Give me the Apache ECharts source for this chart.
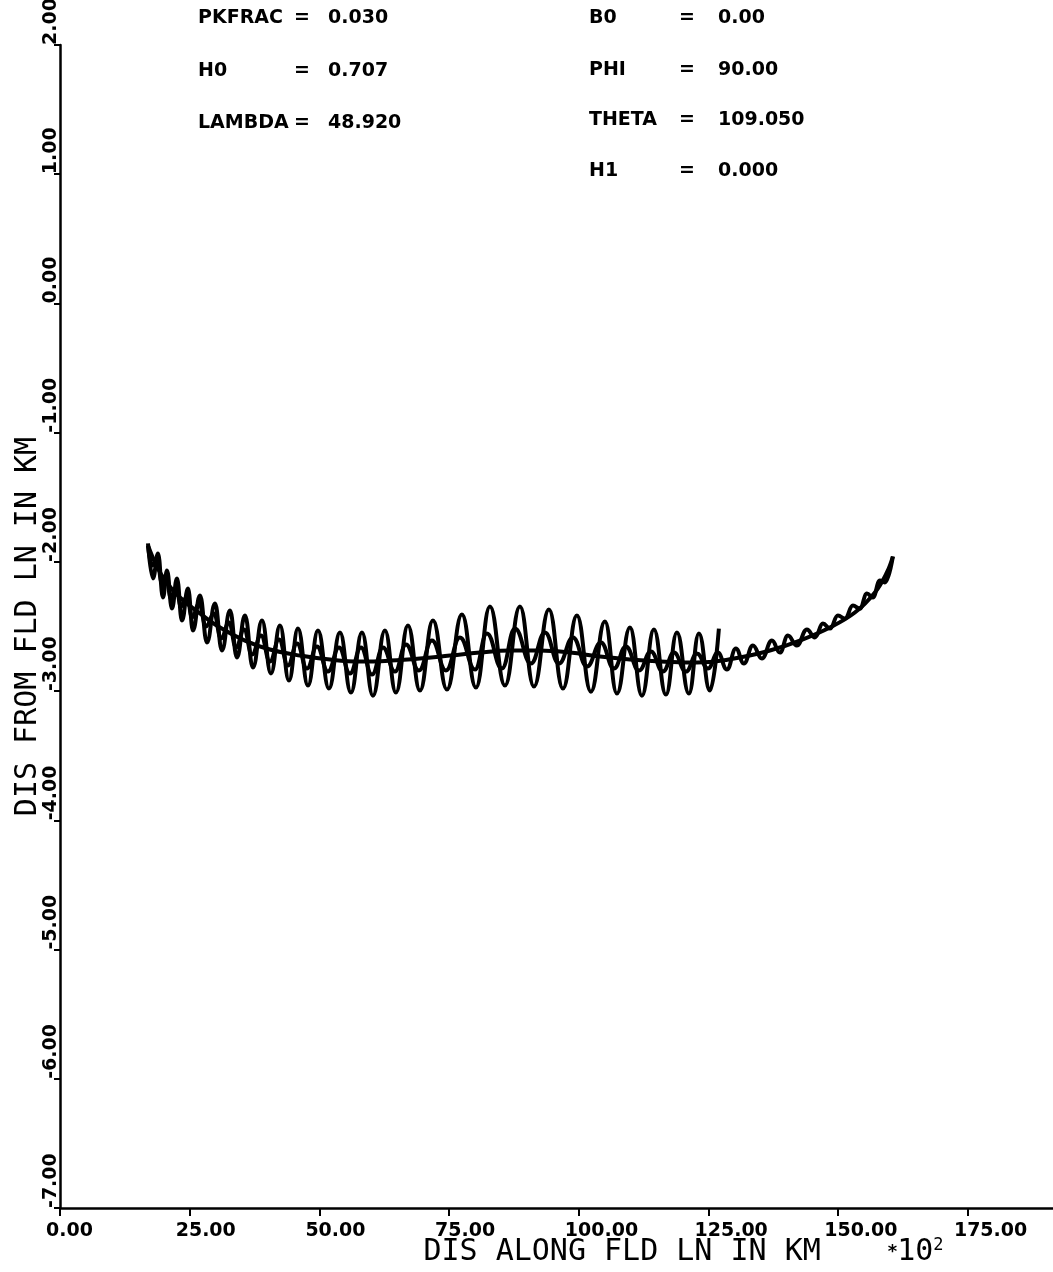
<!DOCTYPE html>
<html>
<head>
<meta charset="utf-8">
<script src="https://cdn.jsdelivr.net/npm/echarts@6/dist/echarts.min.js"></script>
<style>
  html, body { margin: 0; padding: 0; background: #fff; }
  #main { width: 1053px; height: 1272px; }
</style>
</head>
<body>
<div id="main"></div>
<script>
// x: distance along field line (km * 10^2), y: distance from field line (km)
// large gyration, ends near x = 127
const orbitLarge = [
  [16.96, -1.857], [17.92, -2.128], [18.89, -1.935], [19.85, -2.275], [20.62, -2.066],
  [21.58, -2.361], [22.55, -2.128], [23.51, -2.454], [24.67, -2.206], [25.63, -2.531],
  [26.98, -2.260], [28.33, -2.624], [29.87, -2.322], [31.22, -2.686], [32.76, -2.376],
  [34.11, -2.740], [35.65, -2.415], [37.20, -2.818], [38.93, -2.454], [40.66, -2.864],
  [42.40, -2.492], [44.13, -2.918], [45.87, -2.516], [47.80, -2.957], [49.72, -2.531],
  [51.84, -2.980], [53.96, -2.547], [56.08, -3.011], [58.20, -2.547], [60.32, -3.035],
  [62.63, -2.531], [64.75, -3.011], [67.07, -2.492], [69.38, -2.996], [71.88, -2.454],
  [74.58, -2.988], [77.47, -2.407], [80.17, -2.973], [82.87, -2.345], [85.76, -2.957],
  [88.65, -2.345], [91.35, -2.965], [94.24, -2.368], [96.94, -2.980], [99.63, -2.415],
  [102.33, -3.004], [105.03, -2.461], [107.35, -3.019], [109.85, -2.508], [112.17, -3.035],
  [114.48, -2.523], [116.79, -3.027], [118.91, -2.547], [121.22, -3.019], [123.15, -2.554],
  [125.27, -2.996], [127.0, -2.516]
]

// medium gyration, runs out to the right end
const orbitMedium = [
  [16.96, -1.873], [17.73, -2.028], [18.69, -1.981], [19.66, -2.167], [20.43, -2.105],
  [21.39, -2.283], [22.36, -2.198], [23.32, -2.345], [24.48, -2.268], [25.44, -2.430],
  [26.79, -2.322], [28.14, -2.500], [29.68, -2.399], [31.03, -2.593], [32.57, -2.469],
  [33.92, -2.663], [35.46, -2.523], [37.00, -2.717], [38.74, -2.570], [40.47, -2.771],
  [42.21, -2.601], [43.94, -2.802], [45.68, -2.632], [47.60, -2.825], [49.53, -2.655],
  [51.65, -2.849], [53.77, -2.663], [55.89, -2.864], [58.01, -2.663], [60.13, -2.872],
  [62.25, -2.663], [64.56, -2.849], [66.68, -2.640], [69.19, -2.841], [71.69, -2.609],
  [74.39, -2.841], [77.09, -2.585], [79.98, -2.833], [82.29, -2.554], [85.18, -2.825],
  [87.69, -2.516], [90.77, -2.787], [93.47, -2.547], [96.17, -2.787], [98.87, -2.585],
  [101.56, -2.810], [104.26, -2.624], [106.77, -2.825], [109.08, -2.655], [111.59, -2.841],
  [113.90, -2.694], [116.21, -2.849], [118.33, -2.702], [120.64, -2.849], [122.77, -2.709],
  [124.89, -2.825], [126.81, -2.702], [128.55, -2.833], [130.28, -2.671], [131.82, -2.787],
  [133.55, -2.647], [135.29, -2.748], [137.22, -2.609], [138.76, -2.702], [140.30, -2.570],
  [142.03, -2.647], [143.96, -2.523], [145.51, -2.585], [147.05, -2.477], [148.40, -2.516],
  [149.94, -2.415], [151.29, -2.438], [152.83, -2.338], [154.18, -2.361], [155.53, -2.245],
  [156.68, -2.276], [158.03, -2.144], [158.99, -2.159], [160.54, -1.958]
]

// guiding centre
const guideLine = [
  [16.96, -1.873], [18.31, -2.004], [20.24, -2.144], [23.13, -2.276], [26.98, -2.399],
  [30.84, -2.508], [35.65, -2.609], [40.47, -2.678], [46.25, -2.725], [52.04, -2.756],
  [57.82, -2.771], [63.60, -2.764], [69.38, -2.748], [75.16, -2.725], [80.94, -2.702],
  [86.72, -2.686], [92.51, -2.686], [98.29, -2.702], [104.07, -2.733], [109.85, -2.756],
  [115.63, -2.771], [121.41, -2.779], [126.23, -2.771], [131.05, -2.740], [136.83, -2.686],
  [142.61, -2.609], [148.40, -2.508], [153.21, -2.392], [157.07, -2.237], [159.38, -2.082],
  [160.54, -1.958]
]

const leftNames = ['PKFRAC', 'H0', 'LAMBDA']
const leftValues = ['0.030', '0.707', '48.920']
const rightNames = ['B0', 'PHI', 'THETA', 'H1']
const rightValues = ['0.00', '90.00', '109.050', '0.000']

const myChart = echarts.init(document.getElementById('main'))

const boldFont = 'DejaVu Sans'
const plotFont = 'DejaVu Sans Mono'

// parameter block at the top
const graphic = []
function addParam(name, value, xName, xEq, xVal, y) {
  const st = { fontFamily: boldFont, fontWeight: 'bold', fontSize: 19, fill: '#000', verticalAlign: 'middle' }
  graphic.push({ type: 'text', x: xName, y: y, style: Object.assign({ text: name }, st) })
  graphic.push({ type: 'text', x: xEq, y: y, style: Object.assign({ text: '=' }, st) })
  graphic.push({ type: 'text', x: xVal, y: y, style: Object.assign({ text: value }, st) })
}
const rowsLeft = [18, 71, 123]
const rowsRight = [18, 70, 120, 171]
leftNames.forEach((n, i) => addParam(n, leftValues[i], 198, 294, 328, rowsLeft[i]))
rightNames.forEach((n, i) => addParam(n, rightValues[i], 589, 679, 718, rowsRight[i]))

const lineStyle = { color: '#000', width: 4 }

const option = {
  animation: false,
  backgroundColor: '#fff',
  grid: { left: 60, right: 0, top: 45, bottom: 64, outerBoundsMode: 'none', containLabel: false },
  graphic: graphic,
  xAxis: {
    type: 'value',
    min: 0,
    max: 191.4,
    interval: 25,
    name: '{a|DIS ALONG FLD LN IN KM}{b|}{c|*}{d|10}{e|2}',
    nameLocation: 'middle',
    nameGap: 29,
    nameMoveOverlap: false,
    nameTextStyle: {
      padding: [0, 0, 0, 254],
      rich: {
        a: { fontFamily: plotFont, fontSize: 30, color: '#000' },
        b: { width: 67 },
        c: { fontFamily: boldFont, fontWeight: 'bold', fontSize: 18, color: '#000' },
        d: { fontFamily: plotFont, fontSize: 30, color: '#000' },
        e: { fontFamily: plotFont, fontSize: 17, color: '#000', verticalAlign: 'top' },
      },
    },
    axisLine: { show: true, onZero: false, lineStyle: { color: '#000', width: 2.5 } },
    axisTick: { show: true, length: 8, lineStyle: { color: '#000', width: 2 } },
    splitLine: { show: false },
    axisLabel: {
      showMaxLabel: false,
      margin: 14,
      align: 'left',
      padding: [0, 0, 0, -14],
      fontFamily: boldFont,
      fontWeight: 'bold',
      fontSize: 19,
      color: '#000',
      formatter: (v) => v.toFixed(2),
    },
  },
  yAxis: {
    type: 'value',
    min: -7,
    max: 2,
    interval: 1,
    name: 'DIS FROM FLD LN IN KM',
    nameLocation: 'middle',
    nameGap: 17,
    nameMoveOverlap: false,
    nameTextStyle: { fontFamily: plotFont, fontSize: 30, color: '#000' },
    axisLine: { show: true, onZero: false, lineStyle: { color: '#000', width: 2.5 } },
    axisTick: { show: true, length: 6, lineStyle: { color: '#000', width: 2 } },
    splitLine: { show: false },
    axisLabel: {
      rotate: 90,
      margin: 9,
      align: 'left',
      verticalAlign: 'middle',
      fontFamily: boldFont,
      fontWeight: 'bold',
      fontSize: 19,
      color: '#000',
      formatter: (v) => v.toFixed(2),
    },
  },
  series: [
    {
      type: 'line',
      data: guideLine,
      showSymbol: false,
      smooth: 0.4,
      lineStyle: lineStyle,
    },
    {
      type: 'line',
      data: orbitMedium,
      showSymbol: false,
      smooth: 0.45,
      smoothMonotone: 'x',
      lineStyle: lineStyle,
    },
    {
      type: 'line',
      data: orbitLarge,
      showSymbol: false,
      smooth: 0.45,
      smoothMonotone: 'x',
      lineStyle: lineStyle,
    },
  ],
}

myChart.setOption(option)
window.addEventListener('resize', function () {
  myChart.resize()
})
</script>
</body>
</html>
